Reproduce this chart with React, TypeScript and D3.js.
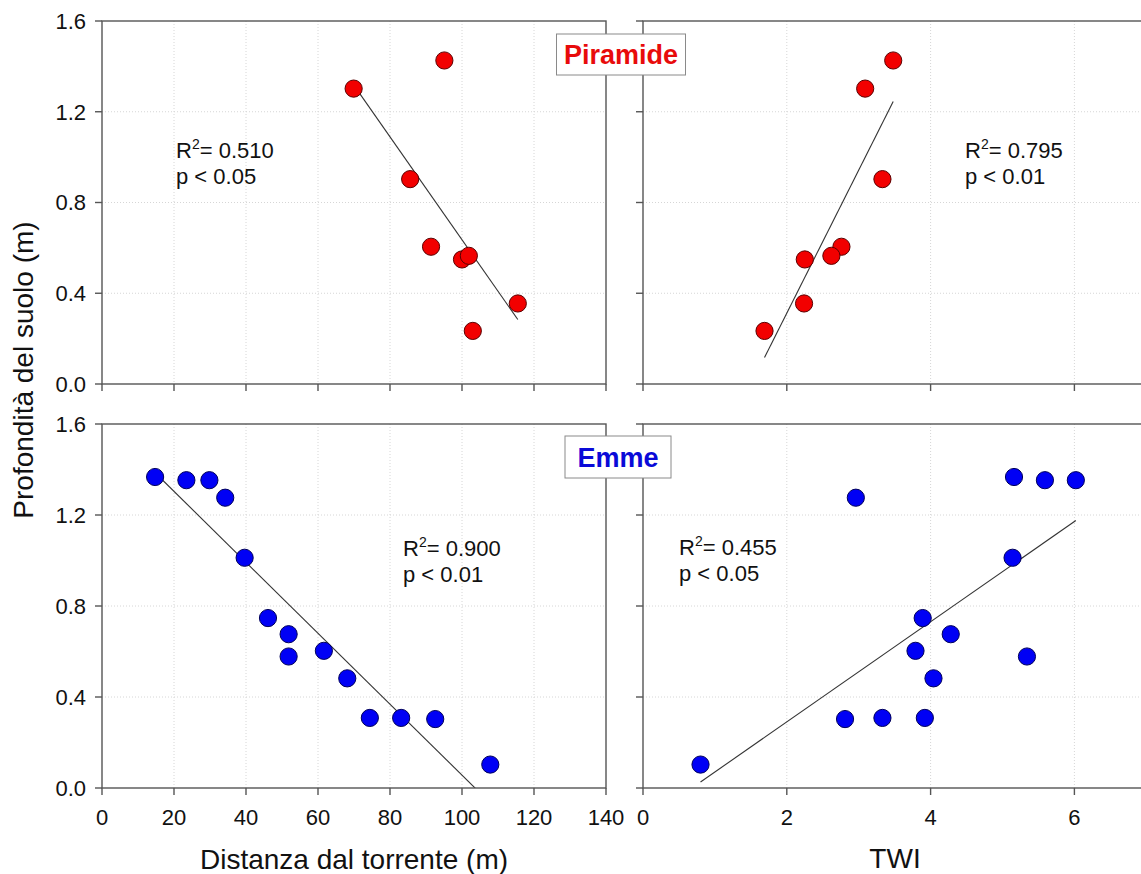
import React from "react";
import * as d3 from "d3";

// Soil depth (m) and the two predictors for the Piramide site
const piramideDepth = [1.302, 1.426, 0.903, 0.605, 0.549, 0.565, 0.355, 0.234];
const piramideDistance = [69.9, 95.1, 85.6, 91.4, 100.0, 101.9, 115.5, 103.0];
const piramideTWI = [3.09, 3.48, 3.33, 2.76, 2.25, 2.62, 2.24, 1.69];

// Soil depth (m) and the two predictors for the Emme site
const emmeDepth = [1.367, 1.353, 1.353, 1.276, 1.012, 0.747, 0.676, 0.578, 0.603, 0.482, 0.308, 0.308, 0.303, 0.103];
const emmeDistance = [14.75, 23.44, 29.83, 34.23, 39.62, 46.11, 51.84, 51.84, 61.63, 68.13, 74.4, 83.1, 92.56, 107.86];
const emmeTWI = [5.16, 5.59, 6.02, 2.96, 5.14, 3.89, 4.28, 5.34, 3.79, 4.04, 3.33, 3.92, 2.81, 0.8];

// Axis ticks
const depthTicks = [0, 0.4, 0.8, 1.2, 1.6];
const distanceTicks = [0, 20, 40, 60, 80, 100, 120, 140];
const twiTicks = [0, 2, 4, 6];

// Regression statistics printed in each panel
const statR2 = ["0.510", "0.795", "0.900", "0.455"];
const statP = ["< 0.05", "< 0.01", "< 0.01", "< 0.05"];

const FONT = "'Liberation Sans', Arial, Helvetica, sans-serif";
const W = 1141;
const H = 874;

const COLS = [
  { x0: 102, x1: 606, domain: [0, 140], ticks: distanceTicks },
  { x0: 643, x1: 1146.3, domain: [0, 7], ticks: twiTicks },
];
const ROWS = [
  { y0: 21, y1: 384 },
  { y0: 424, y1: 788 },
];

const RED = { fill: "#f20000", stroke: "#5a0000" };
const BLUE = { fill: "#0000f5", stroke: "#00005a" };

type PanelProps = {
  id: string;
  col: number;
  row: number;
  xs: number[];
  ys: number[];
  color: { fill: string; stroke: string };
  r2: string;
  p: string;
  statX: number;
  statY: number;
};

// Ordinary least-squares fit of depth on the predictor
function fit(xs: number[], ys: number[]) {
  const mx = d3.mean(xs) as number;
  const my = d3.mean(ys) as number;
  const sxy = d3.sum(xs, (x, i) => (x - mx) * (ys[i] - my));
  const sxx = d3.sum(xs, (x) => (x - mx) * (x - mx));
  const slope = sxy / sxx;
  return { slope, intercept: my - slope * mx };
}

function Panel({ id, col, row, xs, ys, color, r2, p, statX, statY }: PanelProps) {
  const c = COLS[col];
  const r = ROWS[row];
  const x = d3.scaleLinear().domain(c.domain).range([c.x0, c.x1]);
  const y = d3.scaleLinear().domain([0, 1.6]).range([r.y1, r.y0]);
  const { slope, intercept } = fit(xs, ys);
  const [xmin, xmax] = d3.extent(xs) as [number, number];
  const linePts: [number, number][] = [xmin, xmax].map((v) => [v, intercept + slope * v]);
  const lineGen = d3
    .line<[number, number]>()
    .x((d) => x(d[0]))
    .y((d) => y(d[1]));
  const showY = col === 0;
  const showX = row === 1;
  const frame = "#555";
  return (
    <g>
      <defs>
        <clipPath id={`clip-${id}`}>
          <rect x={c.x0} y={r.y0} width={c.x1 - c.x0} height={r.y1 - r.y0} />
        </clipPath>
      </defs>
      {/* dotted grid */}
      {c.ticks
        .filter((t) => t > c.domain[0] && t < c.domain[1])
        .map((t) => (
          <line key={`gx${t}`} x1={x(t)} x2={x(t)} y1={r.y0} y2={r.y1} stroke="#d6d6d6" strokeWidth={1} strokeDasharray="1,2" />
        ))}
      {depthTicks
        .filter((t) => t > 0 && t < 1.6)
        .map((t) => (
          <line key={`gy${t}`} x1={c.x0} x2={c.x1} y1={y(t)} y2={y(t)} stroke="#d6d6d6" strokeWidth={1} strokeDasharray="1,2" />
        ))}
      {/* regression line */}
      <path d={lineGen(linePts) || ""} fill="none" stroke="#333" strokeWidth={1.1} clipPath={`url(#clip-${id})`} />
      {/* observations */}
      {xs.map((v, i) => (
        <circle key={i} cx={x(v)} cy={y(ys[i])} r={8.6} fill={color.fill} stroke={color.stroke} strokeWidth={1} />
      ))}
      {/* frame */}
      <rect x={c.x0} y={r.y0} width={c.x1 - c.x0} height={r.y1 - r.y0} fill="none" stroke={frame} strokeWidth={1.4} />
      {/* ticks */}
      {c.ticks.map((t) => (
        <line key={`tx${t}`} x1={x(t)} x2={x(t)} y1={r.y1} y2={r.y1 + 7} stroke={frame} strokeWidth={1.4} />
      ))}
      {depthTicks.map((t) => (
        <line key={`ty${t}`} x1={c.x0 - 7} x2={c.x0} y1={y(t)} y2={y(t)} stroke={frame} strokeWidth={1.4} />
      ))}
      {showY &&
        depthTicks.map((t) => (
          <text key={`ly${t}`} x={c.x0 - 16} y={y(t)} dy="0.36em" textAnchor="end" fontSize={22} fontFamily={FONT} fill="#111">
            {d3.format(".1f")(t)}
          </text>
        ))}
      {showX &&
        c.ticks.map((t) => (
          <text key={`lx${t}`} x={x(t)} y={r.y1 + 37} textAnchor="middle" fontSize={22} fontFamily={FONT} fill="#111">
            {t}
          </text>
        ))}
      {/* statistics */}
      <text x={statX} y={statY} fontSize={22} fontFamily={FONT} fill="#111">
        R
        <tspan fontSize={14} dy={-9}>
          2
        </tspan>
        <tspan dy={9}>= {r2}</tspan>
      </text>
      <text x={statX} y={statY + 26} fontSize={22} fontFamily={FONT} fill="#111">
        p {p}
      </text>
    </g>
  );
}

function SiteLabel({ cx, y0, w, h, text, color }: { cx: number; y0: number; w: number; h: number; text: string; color: string }) {
  return (
    <g>
      <rect x={cx - w / 2} y={y0} width={w} height={h} fill="#fff" stroke="#8a8a8a" strokeWidth={1} />
      <text x={cx} y={y0 + h / 2} dy="0.36em" textAnchor="middle" fontSize={27} fontWeight="bold" fontFamily={FONT} fill={color}>
        {text}
      </text>
    </g>
  );
}

export default function App() {
  return (
    <svg width={W} height={H} style={{ position: "absolute", left: 0, top: 0, background: "#fff" }}>
      <rect width={W} height={H} fill="#fff" />
      <Panel id="pd" col={0} row={0} xs={piramideDistance} ys={piramideDepth} color={RED} r2={statR2[0]} p={statP[0]} statX={176} statY={158} />
      <Panel id="pt" col={1} row={0} xs={piramideTWI} ys={piramideDepth} color={RED} r2={statR2[1]} p={statP[1]} statX={965} statY={158} />
      <Panel id="ed" col={0} row={1} xs={emmeDistance} ys={emmeDepth} color={BLUE} r2={statR2[2]} p={statP[2]} statX={403} statY={556} />
      <Panel id="et" col={1} row={1} xs={emmeTWI} ys={emmeDepth} color={BLUE} r2={statR2[3]} p={statP[3]} statX={679} statY={555} />

      <SiteLabel cx={621} y0={34} w={129} h={41} text="Piramide" color="#e80b0b" />
      <SiteLabel cx={618} y0={436} w={106} h={42} text="Emme" color="#0a0ad8" />

      <text x={354} y={869} textAnchor="middle" fontSize={28} fontFamily={FONT} fill="#111">
        Distanza dal torrente (m)
      </text>
      <text x={895} y={868} textAnchor="middle" fontSize={28} fontFamily={FONT} fill="#111">
        TWI
      </text>
      <text transform="translate(33,370) rotate(-90)" textAnchor="middle" fontSize={28} fontFamily={FONT} fill="#111">
        Profondità del suolo (m)
      </text>
    </svg>
  );
}
